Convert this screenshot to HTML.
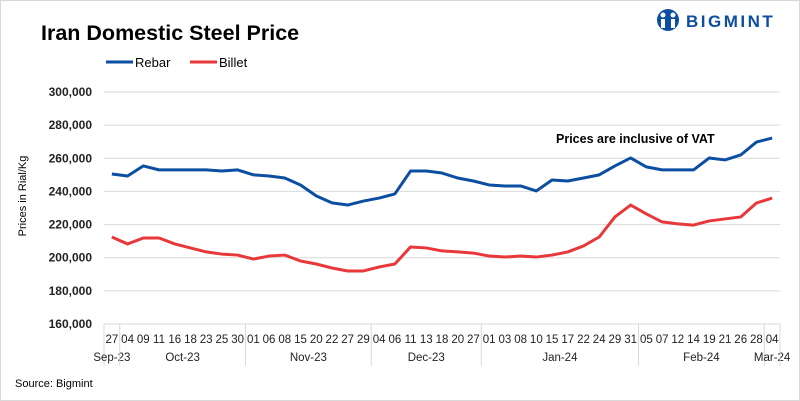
<!DOCTYPE html>
<html><head><meta charset="utf-8"><style>
body{margin:0;background:#fff;}
svg{display:block;font-family:"Liberation Sans",sans-serif;}
</style></head><body>
<svg id="c" width="800" height="401" viewBox="0 0 800 401">
<rect x="0.5" y="0.5" width="799" height="400" fill="#fff" stroke="#d9d9d9"/>
<text x="41" y="40" font-size="21.5" font-weight="bold" fill="#000">Iran Domestic Steel Price</text>
<g>
<line x1="106" y1="62" x2="133" y2="62" stroke="#0b4ea2" stroke-width="3"/>
<text x="135" y="67" font-size="13">Rebar</text>
<line x1="190" y1="62" x2="217" y2="62" stroke="#e8383a" stroke-width="3"/>
<text x="219" y="67" font-size="13">Billet</text>
</g>
<g>
<circle cx="668" cy="20" r="11" fill="#0b4ea2"/>
<circle cx="663" cy="15" r="2.5" fill="#fff"/><circle cx="673" cy="15" r="2.5" fill="#fff"/>
<rect x="661" y="19" width="4" height="9" fill="#fff"/><rect x="671" y="19" width="4" height="9" fill="#fff"/>
<text x="686" y="27" font-size="17" font-weight="bold" fill="#0b4ea2" letter-spacing="2.5">BIGMINT</text>
</g>
<text x="556" y="143" font-size="12.5" font-weight="bold">Prices are inclusive  of VAT</text>
<text transform="translate(26,196) rotate(-90)" text-anchor="middle" font-size="11">Prices in Rial/Kg</text>
<text x="15" y="387" font-size="11">Source: Bigmint</text>
<g id="grid"></g><g id="axes"></g><g id="series"></g>
</svg>
<script>
const days=["27","04","09","11","16","18","23","25","30","01","06","08","15","20","22","27","29","04","06","11","13","18","20","27","01","03","08","10","15","17","22","24","29","31","05","07","12","14","19","21","26","28","04"];
const months=["Sep-23","Oct-23","Nov-23","Dec-23","Jan-24","Feb-24","Mar-24"];
const monthCounts=[1,8,8,7,10,8,1];
const rebar=[250500,249300,255400,253000,253000,253000,253000,252300,253000,250000,249300,248100,243900,237300,233100,231800,234200,236000,238500,252300,252300,251100,248100,246300,243900,243300,243300,240300,246900,246300,248100,250000,255400,260200,254800,253000,253000,253000,260200,259000,262000,269800,272200];
const billet=[212500,208300,211900,211900,208300,205900,203500,202200,201600,199200,201000,201600,198000,196200,193800,192000,192000,194400,196200,206500,205900,204100,203500,202800,201000,200400,201000,200400,201600,203500,207100,212500,224600,231800,226400,221600,220400,219700,222200,223400,224600,233000,236000];
const yTicks=[160000,180000,200000,220000,240000,260000,280000,300000];
const NS="http://www.w3.org/2000/svg";
const X0=104,X1=780,Y0=324,Y1=92,ymin=160000,ymax=300000;
const step=(X1-X0)/days.length;
const x=i=>X0+step*(i+0.5);
const y=v=>Y0-(v-ymin)/(ymax-ymin)*(Y0-Y1);
function mk(tag,attrs,parent,txt){const e=document.createElementNS(NS,tag);for(const k in attrs)e.setAttribute(k,attrs[k]);if(txt!==undefined)e.textContent=txt;parent.appendChild(e);return e;}
const grid=document.getElementById('grid'),axes=document.getElementById('axes'),ser=document.getElementById('series');
yTicks.forEach(t=>{
 const l=mk('line',{x1:X0,x2:X1,y1:y(t),y2:y(t),stroke:'#d9d9d9','stroke-width':1},grid);
 
 
 const tx=mk('text',{x:92,y:y(t)+4,'text-anchor':'end','font-size':12,'font-weight':'bold',fill:'#222'},axes,t.toLocaleString('en-US'));
 
 
});
days.forEach((d,i)=>{
 const t=mk('text',{x:x(i),y:343,'text-anchor':'middle','font-size':11.5,fill:'#222'},axes,d);
 
 
});
let start=0;
const sepL=mk('line',{x1:X0,x2:X0,y1:Y0,y2:366,stroke:'#d9d9d9'},axes);


months.forEach((m,k)=>{
 const end=start+monthCounts[k];
 const cx=(X0+step*start+X0+step*end)/2;
 const t=mk('text',{x:cx,y:361,'text-anchor':'middle','font-size':11.5,fill:'#222'},axes,m);
 
 
 const sx=X0+step*end;
 const s=mk('line',{x1:sx,x2:sx,y1:Y0,y2:366,stroke:'#d9d9d9'},axes);
 
 
 start=end;
});
[[rebar,'#0b4ea2','rebar-line'],[billet,'#e8383a','billet-line']].forEach(([vals,c,n])=>{
 const p=mk('polyline',{points:vals.map((v,i)=>x(i)+','+y(v)).join(' '),fill:'none',stroke:c,'stroke-width':3,'stroke-linejoin':'round'},ser);
 
 
});
</script>
</body></html>
